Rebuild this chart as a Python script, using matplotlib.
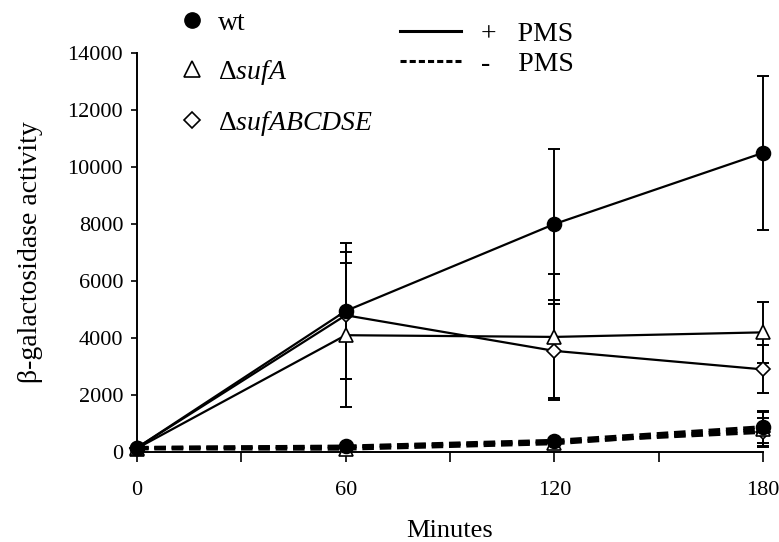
import numpy as np
import matplotlib
matplotlib.use("Agg")
import matplotlib.pyplot as plt
from matplotlib.lines import Line2D

plt.rcParams["font.family"] = ["Liberation Serif", "DejaVu Serif"]
plt.rcParams["mathtext.fontset"] = "custom"
plt.rcParams["mathtext.rm"] = "Liberation Serif"
plt.rcParams["mathtext.it"] = "Liberation Serif:italic"

# time points (minutes)
minutes = [0, 60, 120, 180]

# + PMS
wt_pms = [150, 4950, 8000, 10500]
wt_pms_err = [0, 2380, 2650, 2700]
sufA_pms = [130, 4100, 4040, 4200]
sufA_pms_err = [0, 2520, 2200, 1060]
sufABCDSE_pms = [150, 4800, 3550, 2900]
sufABCDSE_pms_err = [0, 2220, 1650, 840]

# - PMS
wt_nopms = [150, 200, 400, 880]
wt_nopms_err = [0, 40, 80, 560]
sufA_nopms = [120, 110, 300, 800]
sufA_nopms_err = [0, 40, 60, 620]
sufABCDSE_nopms = [150, 180, 350, 700]
sufABCDSE_nopms_err = [0, 40, 60, 480]

fig = plt.figure(figsize=(7.79, 5.42), dpi=100)
ax = fig.add_axes([0.1759, 0.166, 0.8036, 0.736])

markers = {"wt": ("o", "black", 10), "sufA": ("^", "white", 10.5), "sufABCDSE": ("D", "white", 7.5)}

series = [
    ("sufABCDSE", sufABCDSE_nopms, sufABCDSE_nopms_err, "--"),
    ("sufA", sufA_nopms, sufA_nopms_err, "--"),
    ("wt", wt_nopms, wt_nopms_err, "--"),
    ("sufABCDSE", sufABCDSE_pms, sufABCDSE_pms_err, "-"),
    ("sufA", sufA_pms, sufA_pms_err, "-"),
    ("wt", wt_pms, wt_pms_err, "-"),
]

for name, vals, err, ls in series:
    m, fc, ms = markers[name]
    lw = 1.6 if ls == "-" else 2.6
    ax.errorbar(minutes, vals, yerr=err, fmt="none", ecolor="black",
                elinewidth=1.4, capsize=4.5, capthick=1.4, clip_on=False, zorder=2)
    line, = ax.plot(minutes, vals, color="black", linestyle=ls, linewidth=lw,
                    marker=m, markersize=ms, markerfacecolor=fc,
                    markeredgecolor="black", markeredgewidth=1.2,
                    clip_on=False, zorder=3)
    if ls == "--":
        line.set_dashes([3.2, 1.6])

ax.set_xlim(0, 180)
ax.set_ylim(0, 14000)
ax.set_xticks([0, 30, 60, 90, 120, 150, 180])
ax.set_xticklabels(["0", "", "60", "", "120", "", "180"])
ax.set_yticks(np.arange(0, 14001, 2000))
ax.tick_params(axis="x", direction="out", length=7, width=1.2, pad=14, labelsize=16)
ax.tick_params(axis="y", direction="out", length=4, width=1.2, pad=6, labelsize=16)
for s in ["top", "right"]:
    ax.spines[s].set_visible(False)
for s in ["left", "bottom"]:
    ax.spines[s].set_linewidth(1.4)

ax.set_xlabel("Minutes", fontsize=19, labelpad=14)
ax.set_ylabel("\u03b2-galactosidase activity", fontsize=20, labelpad=18)

# strain legend
strain_handles = [
    Line2D([], [], linestyle="none", marker="o", markersize=11, markerfacecolor="black", markeredgecolor="black"),
    Line2D([], [], linestyle="none", marker="^", markersize=11, markerfacecolor="white", markeredgecolor="black", markeredgewidth=1.2),
    Line2D([], [], linestyle="none", marker="D", markersize=8, markerfacecolor="white", markeredgecolor="black", markeredgewidth=1.2),
]
strain_labels = ["wt", r"$\Delta\mathit{sufA}$", r"$\Delta\mathit{sufABCDSE}$"]
leg1 = fig.legend(strain_handles, strain_labels, loc="upper left",
                  bbox_to_anchor=(0.2324, 0.981), frameon=False, fontsize=20,
                  borderpad=0, borderaxespad=0,
                  handlelength=0.8, handletextpad=0.54, labelspacing=0.8)

# PMS legend
pms_handles = [
    Line2D([], [], color="black", linestyle="-", linewidth=2.2),
    Line2D([], [], color="black", linestyle=(0, (2.0, 1.0)), linewidth=2.2),
]
pms_labels = ["+   PMS", "-    PMS"]
leg2 = fig.legend(pms_handles, pms_labels, loc="upper left",
                  bbox_to_anchor=(0.5135, 0.961), frameon=False, fontsize=20,
                  borderpad=0, borderaxespad=0,
                  handlelength=2.2, handletextpad=0.72, labelspacing=0.18)

fig.savefig("out.png", dpi=100)
